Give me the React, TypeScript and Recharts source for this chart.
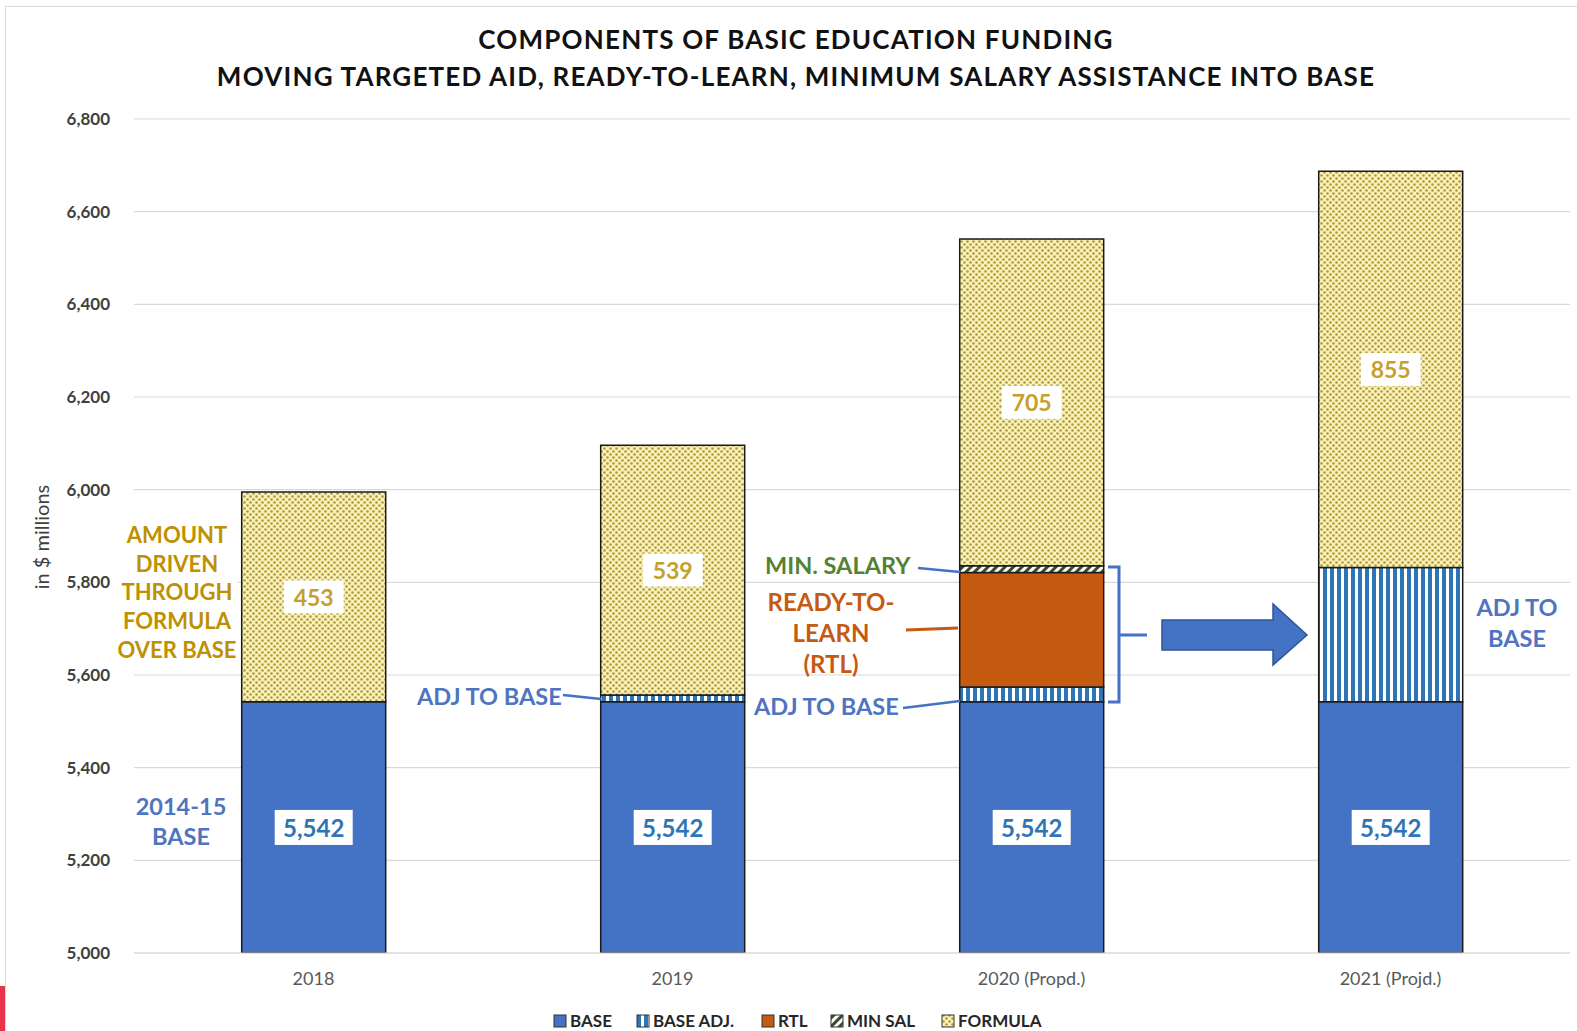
import React from 'react'
import { BarChart, Bar, XAxis, YAxis, CartesianGrid, LabelList } from 'recharts'

// values in $ millions
const YEARS = ['2018', '2019', '2020 (Propd.)', '2021 (Projd.)']
const BASE = [5542, 5542, 5542, 5542]
const BASE_ADJ = [0, 15, 32, 290]
const RTL = [0, 0, 247, 0]
const MIN_SAL = [0, 0, 15, 0]
const FORMULA = [453, 539, 705, 855]
const Y_TICKS = [5000, 5200, 5400, 5600, 5800, 6000, 6200, 6400, 6600, 6800]

const TITLE_1 = 'COMPONENTS OF BASIC EDUCATION FUNDING'
const TITLE_2 = 'MOVING TARGETED AID, READY-TO-LEARN, MINIMUM SALARY ASSISTANCE INTO BASE'

const LEGEND = [
  { key: 'base', label: 'BASE', fill: '#4472c4' },
  { key: 'baseAdj', label: 'BASE ADJ.', fill: 'url(#pAdj)' },
  { key: 'rtl', label: 'RTL', fill: '#c55a11' },
  { key: 'minSal', label: 'MIN SAL', fill: 'url(#pMin)' },
  { key: 'formula', label: 'FORMULA', fill: 'url(#pFormula)' },
]

const W = 1577
const H = 1031
const X_AXIS_H = 30
const MARGIN = { top: 119, right: 7, bottom: 48, left: 0 }
const PLOT_BOTTOM = H - MARGIN.bottom - X_AXIS_H
const FONT = 'Lato, "Open Sans", sans-serif'

const data = YEARS.map((year, i) => ({
  year,
  base: BASE[i],
  baseAdj: BASE_ADJ[i],
  rtl: RTL[i],
  minSal: MIN_SAL[i],
  formula: FORMULA[i],
}))

const fmt = (v: number) => v.toLocaleString('en-US')

// white box label, centered in the visible part of the segment
function BoxLabel(props: any) {
  const { x, y, width, height, value, color, boxW, boxH, fontSize, clipBottom } = props
  if (!value) return null
  const bottom = clipBottom ? PLOT_BOTTOM : y + height
  const cx = x + width / 2
  const cy = (y + bottom) / 2
  return (
    <g>
      <rect x={cx - boxW / 2} y={cy - boxH / 2} width={boxW} height={boxH} fill="#fff" />
      <text
        x={cx}
        y={cy}
        textAnchor="middle"
        dominantBaseline="central"
        fill={color}
        fontSize={fontSize}
        fontWeight={700}
        fontFamily={FONT}
      >
        {fmt(value)}
      </text>
    </g>
  )
}

function Patterns() {
  return (
    <defs>
      <pattern id="pFormula" patternUnits="userSpaceOnUse" width="6" height="6">
        <rect width="6" height="6" fill="#faf0b8" />
        <circle cx="1.5" cy="1.5" r="1.3" fill="#ad9a34" />
        <circle cx="4.5" cy="4.5" r="1.3" fill="#ad9a34" />
      </pattern>
      <pattern id="pAdj" patternUnits="userSpaceOnUse" width="7" height="7">
        <rect width="7" height="7" fill="#fff" />
        <rect width="4" height="7" fill="#2e75b6" />
      </pattern>
      <pattern id="pMin" patternUnits="userSpaceOnUse" width="6" height="6" patternTransform="rotate(45)">
        <rect width="6" height="6" fill="#fff" />
        <rect width="3" height="6" fill="#3a4a2a" />
      </pattern>
    </defs>
  )
}

export default function App() {
  const lbl = { fontFamily: FONT, fontWeight: 700 }
  return (
    <div style={{ position: 'absolute', left: 0, top: 0, width: W, height: H, background: '#fff', overflow: 'hidden' }}>
      {/* outer frame + red mark */}
      <div style={{ position: 'absolute', left: 5, top: 6, width: W, height: H, border: '1px solid #d9d9d9' }} />
      <div style={{ position: 'absolute', left: 0, top: 986, width: 5, height: 45, background: '#e8334a' }} />

      {/* title */}
      <div style={{ position: 'absolute', left: 0, top: 21, width: 1592, textAlign: 'center', fontFamily: FONT, fontWeight: 700, fontSize: 26, letterSpacing: 1.2, color: '#111', lineHeight: '37px' }}>
        <div>{TITLE_1}</div>
        <div>{TITLE_2}</div>
      </div>

      <div style={{ position: 'absolute', left: 0, top: 0 }}>
        <BarChart width={W} height={H} data={data} margin={MARGIN} barCategoryGap="30%">
          <Patterns />
          <CartesianGrid vertical={false} stroke="#d9d9d9" strokeWidth={1.2} />
          <XAxis
            dataKey="year"
            height={X_AXIS_H}
            tickLine={false}
            axisLine={{ stroke: '#d9d9d9' }}
            tickMargin={13}
            tick={{ fill: '#595959', fontSize: 18, fontFamily: FONT }}
          />
          <YAxis
            width={134}
            domain={[5000, 6800]}
            ticks={Y_TICKS}
            allowDataOverflow
            axisLine={false}
            tickLine={false}
            tickMargin={18}
            tickFormatter={fmt}
            tick={{ fill: '#404040', fontSize: 17, fontWeight: 700, fontFamily: FONT }}
          />
          <Bar dataKey="base" stackId="a" fill="#4472c4" stroke="#1a1a1a" strokeWidth={1.5} isAnimationActive={false}>
            <LabelList
              dataKey="base"
              content={(p: any) => <BoxLabel {...p} color="#2e75b6" boxW={78} boxH={35} fontSize={24} clipBottom />}
            />
          </Bar>
          <Bar dataKey="baseAdj" stackId="a" fill="url(#pAdj)" stroke="#1a1a1a" strokeWidth={1.5} isAnimationActive={false} />
          <Bar dataKey="rtl" stackId="a" fill="#c55a11" stroke="#1a1a1a" strokeWidth={1.5} isAnimationActive={false} />
          <Bar dataKey="minSal" stackId="a" fill="url(#pMin)" stroke="#1a1a1a" strokeWidth={1.5} isAnimationActive={false} />
          <Bar dataKey="formula" stackId="a" fill="url(#pFormula)" stroke="#1a1a1a" strokeWidth={1.5} isAnimationActive={false}>
            <LabelList
              dataKey="formula"
              content={(p: any) => <BoxLabel {...p} color="#c5a02a" boxW={60} boxH={33} fontSize={23} />}
            />
          </Bar>
        </BarChart>
      </div>

      {/* annotations */}
      <svg width={W} height={H} style={{ position: 'absolute', left: 0, top: 0, pointerEvents: 'none' }}>
        <text x={41} y={537} transform="rotate(-90 41 537)" textAnchor="middle" dominantBaseline="central" fontFamily={FONT} fontSize={20} fill="#404040">
          in $ millions
        </text>

        <rect x={116} y={518} width={122} height={146} fill="#fff" />
        <g {...lbl} fontSize={22} fill="#bf9000" textAnchor="middle">
          {['AMOUNT', 'DRIVEN', 'THROUGH', 'FORMULA', 'OVER BASE'].map((t, i) => (
            <text key={t} x={177} y={543 + i * 28.7}>{t}</text>
          ))}
        </g>
        <g {...lbl} fontSize={23.5} fill="#4f74c0" textAnchor="middle">
          <text x={181} y={815}>2014-15</text>
          <text x={181} y={845}>BASE</text>
        </g>

        {/* 2019 adj */}
        <text x={417} y={705} {...lbl} fontSize={23.5} fill="#4f74c0">ADJ TO BASE</text>
        <line x1={563} y1={695} x2={601} y2={699} stroke="#4472c4" strokeWidth={2.5} />

        {/* 2020 callouts */}
        <text x={765} y={574} {...lbl} fontSize={23.5} fill="#548235">MIN. SALARY</text>
        <line x1={918} y1={568} x2={960} y2={572} stroke="#4472c4" strokeWidth={2.5} />
        <g {...lbl} fontSize={24} fill="#c55a11" textAnchor="middle">
          <text x={831} y={611}>READY-TO-</text>
          <text x={831} y={642}>LEARN</text>
          <text x={831} y={673}>(RTL)</text>
        </g>
        <line x1={906} y1={630} x2={958} y2={628} stroke="#c55a11" strokeWidth={3} />
        <text x={754} y={715} {...lbl} fontSize={23.5} fill="#4f74c0">ADJ TO BASE</text>
        <line x1={903} y1={708} x2={960} y2={701} stroke="#4472c4" strokeWidth={2.5} />

        {/* bracket */}
        <path d="M1108 567 L1119 567 L1119 702 L1108 702 M1119 635 L1147 635" fill="none" stroke="#4472c4" strokeWidth={3} />

        {/* arrow */}
        <path
          d="M1162 620 L1273 620 L1273 604 L1307 635 L1273 665 L1273 650 L1162 650 Z"
          fill="#4472c4"
          stroke="#2f5597"
          strokeWidth={1.5}
        />

        <g {...lbl} fontSize={23.5} fill="#4f74c0" textAnchor="middle">
          <text x={1517} y={616}>ADJ TO</text>
          <text x={1517} y={647}>BASE</text>
        </g>
      </svg>

      {/* legend */}
      <svg width={W} height={41} style={{ position: 'absolute', left: 0, top: 990 }}>
        <Patterns />
        {LEGEND.map((item, i) => {
          const xs = [554, 637, 762, 831, 942]
          return (
            <g key={item.key}>
              <rect x={xs[i]} y={25} width={12} height={12} fill={item.fill} stroke="#333" strokeWidth={1} />
              <text x={xs[i] + 16} y={37} fontFamily={FONT} fontWeight={700} fontSize={17} fill="#262626">
                {item.label}
              </text>
            </g>
          )
        })}
      </svg>
    </div>
  )
}
